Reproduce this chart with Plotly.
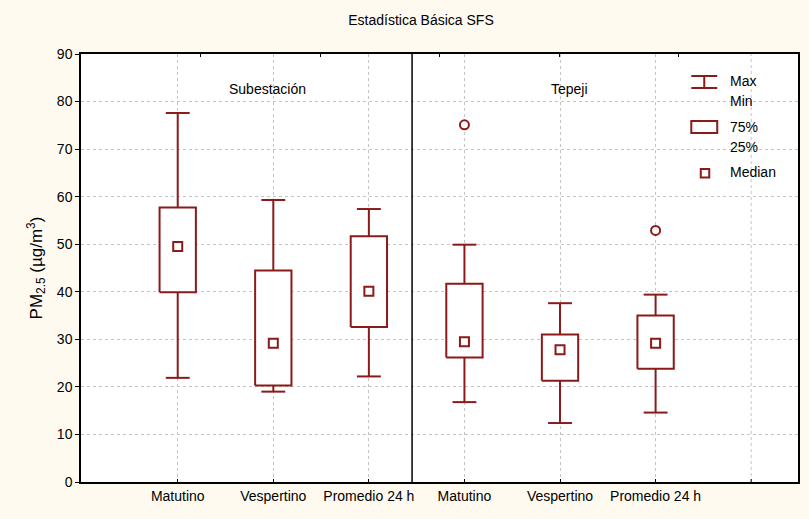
import plotly.graph_objects as go

# ---- data ----
groups = ["Subestación", "Tepeji"]
categories = ["Matutino", "Vespertino", "Promedio 24 h", "Matutino", "Vespertino", "Promedio 24 h"]
max_v = [77.6, 59.3, 57.4, 49.9, 37.6, 39.4]
q3_v = [57.7, 44.5, 51.7, 41.7, 31.0, 35.0]
median_v = [49.5, 29.2, 40.1, 29.5, 27.8, 29.2]
q1_v = [39.9, 20.3, 32.6, 26.2, 21.3, 23.8]
min_v = [21.9, 19.0, 22.2, 16.8, 12.4, 14.6]
outlier_idx = [3, 5]
outlier_v = [75.1, 52.9]
y_ticks = [0, 10, 20, 30, 40, 50, 60, 70, 80, 90]
legend_labels = ["Max", "Min", "75%", "25%", "Median"]

RED = "#8b1a1a"
GRID = "#c4c4c4"
FONT = "Liberation Sans, Arial, sans-serif"
FS = 14
BOX_W = 0.38
CAP_W = 0.25
positions = list(range(len(categories)))
empty_slot = len(categories)  # slot used by the legend

fig = go.Figure()

# whiskers + caps
wx, wy = [], []
for i, p in enumerate(positions):
    wx += [p, p, None, p, p, None]
    wy += [q3_v[i], max_v[i], None, min_v[i], q1_v[i], None]
    wx += [p - CAP_W / 2, p + CAP_W / 2, None, p - CAP_W / 2, p + CAP_W / 2, None]
    wy += [max_v[i], max_v[i], None, min_v[i], min_v[i], None]
fig.add_trace(go.Scatter(x=wx, y=wy, mode="lines", line=dict(color=RED, width=2),
                         hoverinfo="skip", showlegend=False))

# boxes (white filled)
for i, p in enumerate(positions):
    x0, x1 = p - BOX_W / 2, p + BOX_W / 2
    fig.add_trace(go.Scatter(
        x=[x0, x1, x1, x0, x0], y=[q1_v[i], q1_v[i], q3_v[i], q3_v[i], q1_v[i]],
        mode="lines", fill="toself", fillcolor="white",
        line=dict(color=RED, width=2), hoverinfo="skip", showlegend=False))

# medians
fig.add_trace(go.Scatter(x=positions, y=median_v, mode="markers",
                         marker=dict(symbol="square", size=9, color="white",
                                     line=dict(color=RED, width=2)),
                         showlegend=False))
# outliers
fig.add_trace(go.Scatter(x=[positions[i] for i in outlier_idx], y=outlier_v, mode="markers",
                         marker=dict(symbol="circle", size=9, color="white",
                                     line=dict(color=RED, width=2)),
                         showlegend=False))

# dummy trace for the top tick axis
fig.add_trace(go.Scatter(x=[0], y=[0], xaxis="x2", mode="markers",
                         marker=dict(opacity=0), hoverinfo="skip", showlegend=False))

grid = dict(showgrid=True, gridcolor=GRID, griddash="dot", gridwidth=1)

fig.update_layout(
    width=809, height=519,
    margin=dict(l=81, r=9, t=54, b=37),
    paper_bgcolor="#fffaf0", plot_bgcolor="white",
    font=dict(family=FONT, size=FS, color="black"),
    title=dict(text="Estadística Básica SFS", x=421 / 809, xanchor="center",
               y=1 - 20 / 519, yanchor="middle", font=dict(size=FS)),
    xaxis=dict(range=[-1.012, 6.49], tickvals=positions,
               ticktext=categories, ticks="inside", ticklen=3, tickcolor="black",
               showline=True, linecolor="black", linewidth=1.5, mirror=True,
               zeroline=False, **grid),
    xaxis2=dict(overlaying="x", side="top", range=[0, 6], tickvals=[1, 2, 3, 4, 5],
                ticks="inside", ticklen=3, tickcolor="black", showticklabels=False,
                showgrid=False, zeroline=False, showline=False),
    yaxis=dict(range=[0, 90], tickvals=y_ticks, ticks="outside", ticklen=4,
               tickcolor="black", showline=True, linecolor="black", linewidth=1.5,
               mirror=True, zeroline=False,
               title=dict(text="PM<sub>2.5</sub> (µg/m<sup>3</sup>)", standoff=10), **grid),
)

# grid line + tick at the empty (legend) slot
fig.add_shape(type="line", xref="x", yref="y", x0=empty_slot, x1=empty_slot, y0=0, y1=90,
              line=dict(color=GRID, width=1, dash="dot"), layer="below")
fig.add_shape(type="line", xref="x", yref="paper", x0=empty_slot, x1=empty_slot,
              y0=0, y1=3 / 428, line=dict(color="black", width=1))

# panel divider
fig.add_shape(type="line", xref="x", yref="y", x0=2.452, x1=2.452, y0=0, y1=90,
              line=dict(color="black", width=1.5))

# panel labels
for name, xpos in zip(groups, [0.94, 4.10]):
    fig.add_annotation(text=name, x=xpos, y=82.6, xref="x", yref="y",
                       showarrow=False, font=dict(size=FS))

# legend drawn in pixel-based paper coordinates
def px(xp):
    return (xp - 81) / 719

def py(yp):
    return (482 - yp) / 428

# whisker icon
fig.add_shape(type="line", xref="paper", yref="paper", x0=px(693), x1=px(719), y0=py(76), y1=py(76),
              line=dict(color=RED, width=2))
fig.add_shape(type="line", xref="paper", yref="paper", x0=px(693), x1=px(719), y0=py(88), y1=py(88),
              line=dict(color=RED, width=2))
fig.add_shape(type="line", xref="paper", yref="paper", x0=px(706), x1=px(706), y0=py(76), y1=py(88),
              line=dict(color=RED, width=2))
# box icon
fig.add_shape(type="rect", xref="paper", yref="paper", x0=px(693), x1=px(719), y0=py(133), y1=py(121),
              line=dict(color=RED, width=2), fillcolor="white")
# median icon
fig.add_shape(type="rect", xref="paper", yref="paper", x0=px(702.5), x1=px(711), y0=py(177.5), y1=py(169),
              line=dict(color=RED, width=2), fillcolor="white")

for lab, yp in zip(legend_labels, [81, 101, 127, 147, 172]):
    fig.add_annotation(text=lab, xref="paper", yref="paper", x=px(730), y=py(yp),
                       xanchor="left", yanchor="middle", showarrow=False, font=dict(size=FS))

fig.write_html("out.html")
